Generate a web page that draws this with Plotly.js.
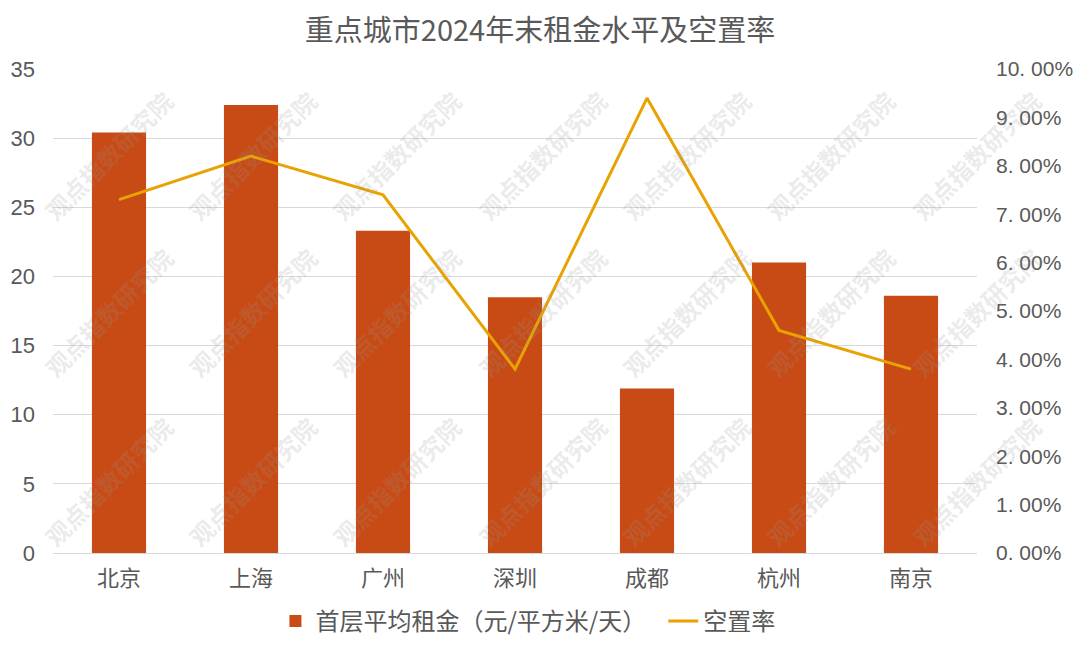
<!DOCTYPE html>
<html>
<head>
<meta charset="utf-8">
<script src="https://cdn.plot.ly/plotly-3.0.1.min.js"></script>
<style>
html,body{margin:0;padding:0;background:#fff;}
#chart{width:1080px;height:648px;}
</style>
</head>
<body>
<div id="chart"></div>
<script>
const cities = ["北京","上海","广州","深圳","成都","杭州","南京"];
const rent = [30.4, 32.4, 23.3, 18.5, 11.9, 21.0, 18.6];
const vacancy = [0.073, 0.082, 0.074, 0.038, 0.094, 0.046, 0.038];
const rentName = "首层平均租金（元/平方米/天）";
const vacancyName = "空置率";
const titleText = "重点城市2024年末租金水平及空置率";
const leftTicks = [0,5,10,15,20,25,30,35];
const rightTicks = [0,0.01,0.02,0.03,0.04,0.05,0.06,0.07,0.08,0.09,0.10];
const watermark = "观点指数研究院";

const FONT = '"Noto Sans CJK SC", "Noto Sans", sans-serif';
const GREY = '#595959';

// plot area in pixels
const L = 53, R = 977, T = 69, B = 553;
const W = 1080, H = 648;

const traces = [
  {
    type: 'bar', x: cities, y: rent, name: rentName + '\u2002',
    marker: {color: '#C84B16'}, hoverinfo: 'none'
  },
  {
    type: 'scatter', mode: 'lines', x: cities, y: vacancy, name: vacancyName,
    yaxis: 'y2', line: {color: '#E8A202', width: 3}, hoverinfo: 'none'
  }
];

// watermark annotations
const annotations = [];
const wmCols = [108, 252, 396, 542, 686, 830, 976];
const wmRows = [155, 312, 481];
wmRows.forEach(py => wmCols.forEach(px => {
  annotations.push({
    text: watermark, xref: 'paper', yref: 'paper',
    x: (px - L) / (R - L), y: (B - py) / (B - T),
    showarrow: false, textangle: -45,
    font: {family: FONT, size: 24, color: 'rgba(150,150,150,0.2)', weight: 'bold'},
    xanchor: 'center', yanchor: 'middle'
  });
}));

const layout = {
  width: W, height: H,
  paper_bgcolor: '#ffffff', plot_bgcolor: '#ffffff',
  margin: {l: L, r: W - R, t: T, b: H - B, pad: 0, autoexpand: false},
  title: {text: titleText, x: 0.5, xanchor: 'center', y: 1 - 31 / H, yanchor: 'middle',
          font: {family: FONT, size: 29, color: GREY}},
  font: {family: FONT, color: GREY},
  bargap: 0.59,
  showlegend: true,
  legend: {orientation: 'h', x: 0.514, xanchor: 'center', y: -0.095, yanchor: 'top',
           font: {family: FONT, size: 24, color: GREY}, itemwidth: 30, tracegroupgap: 0,
           traceorder: 'normal'},
  xaxis: {
    type: 'category', showgrid: false, zeroline: false, showline: false,
    ticks: '', tickfont: {family: FONT, size: 22, color: GREY}, ticklabelstandoff: 10
  },
  yaxis: {
    range: [0, 35], tickvals: leftTicks, ticktext: leftTicks.map(String),
    showgrid: true, gridcolor: '#d9d9d9', gridwidth: 1,
    zeroline: true, zerolinecolor: '#d9d9d9', zerolinewidth: 1,
    showline: false, ticks: '', ticklabelstandoff: 17,
    tickfont: {family: '"Liberation Sans", Arial, sans-serif', size: 22, color: GREY}
  },
  yaxis2: {
    overlaying: 'y', side: 'right', range: [0, 0.1],
    tickvals: rightTicks,
    ticktext: rightTicks.map(v => (v * 100).toFixed(2).replace('.', '. ') + '%'),
    showgrid: false, zeroline: false, showline: false, ticks: '', ticklabelstandoff: 18,
    tickfont: {family: '"Liberation Sans", Arial, sans-serif', size: 21, color: GREY}
  },
  annotations: annotations
};

Plotly.newPlot('chart', traces, layout, {staticPlot: true, displayModeBar: false});
</script>
</body>
</html>
